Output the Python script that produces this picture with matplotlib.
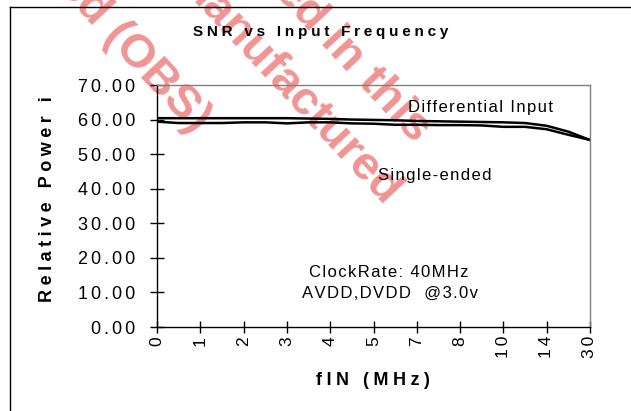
import numpy as np
import matplotlib
matplotlib.use("Agg")
import matplotlib.pyplot as plt
from matplotlib.lines import Line2D

plt.rcParams['font.family'] = ['Liberation Sans', 'DejaVu Sans']

# ---- data ----
tick_labels = ["0", "1", "2", "3", "4", "5", "7", "8", "10", "14", "30"]
differential = [60.4, 60.4, 60.4, 60.4, 60.4, 60.4, 60.4, 60.3, 60.2, 60.0, 59.9,
                59.8, 59.6, 59.5, 59.4, 59.3, 59.2, 59.0, 58.2, 56.5, 54.1]
single_ended = [59.4, 59.0, 59.0, 59.0, 59.2, 59.2, 58.9, 59.2, 59.2, 58.9, 58.8,
                58.5, 58.5, 58.4, 58.4, 58.3, 57.9, 57.9, 57.2, 55.6, 54.1]
y_ticks = [0, 10, 20, 30, 40, 50, 60, 70]

W, H = 631, 411
SP = "\u200a"


def spaced(s, n=1):
    return (SP * n).join(s)


def fx(px):
    return px / W


def fy(py):
    return 1 - py / H


fig = plt.figure(figsize=(W / 100, H / 100), dpi=100)

# watermark (behind chart)
wm = dict(rotation=-47, rotation_mode='anchor', ha='right', va='baseline',
          fontsize=34, fontweight='bold', color='#f09494', zorder=0.2)
fig.text(fx(194), fy(134), "Discontinued (OBS)", **wm)
fig.text(fx(384), fy(208), "manufactured", **wm)
fig.text(fx(414), fy(144), "used in this", **wm)

# outer border
fig.add_artist(Line2D([fx(10), fx(10)], [0, fy(7)], color='black', lw=1.0))
fig.add_artist(Line2D([fx(10), 1], [fy(7), fy(7)], color='black', lw=1.0))

ax = fig.add_axes([fx(157), fy(327), (590 - 157) / W, (327 - 85) / H])
ax.set_zorder(1)
ax.patch.set_alpha(0)

x = np.arange(len(differential))
ax.plot(x, differential, color='black', lw=1.8)
ax.plot(x, single_ended, color='black', lw=1.8)

ax.set_xlim(0, len(differential) - 1)
ax.set_ylim(0, 70)

ax.set_xticks(np.arange(0, len(differential), 2))
ax.set_xticklabels([spaced(t, 2) for t in tick_labels], rotation=90, fontsize=12.5)
ax.set_yticks(y_ticks)
ax.set_yticklabels([spaced(f"{v:.2f}", 2) for v in y_ticks], fontsize=13)

ax.tick_params(axis='x', direction='inout', length=9, width=1, pad=2)
ax.tick_params(axis='y', direction='inout', length=9.5, width=1, pad=11)

for s in ['top', 'right']:
    ax.spines[s].set_color('#808080')
    ax.spines[s].set_linewidth(1.0)
for s in ['left', 'bottom']:
    ax.spines[s].set_color('black')
    ax.spines[s].set_linewidth(1.0)

ax.text(0.580, 0.905, spaced("Differential Input"), transform=ax.transAxes,
        fontsize=12, ha='left', va='center')
ax.text(0.510, 0.628, spaced("Single-ended"), transform=ax.transAxes,
        fontsize=12, ha='left', va='center')
ax.text(0.536, 0.227, spaced("ClockRate: 40MHz"), transform=ax.transAxes,
        fontsize=12, ha='center', va='center')
ax.text(0.538, 0.140, spaced("AVDD,DVDD  @3.0v", 1), transform=ax.transAxes,
        fontsize=12, ha='center', va='center')

fig.text(fx(321), fy(32), spaced("SNR vs Input Frequency", 3), fontsize=11,
         fontweight='bold', ha='center', va='center')
fig.text(fx(47), fy(199), spaced("Relative Power i", 3), fontsize=13,
         fontweight='bold', ha='center', va='center', rotation=90)
fig.text(fx(373), fy(380), spaced("fIN (MHz)", 3), fontsize=13,
         fontweight='bold', ha='center', va='center')

fig.savefig("out.png", dpi=100)
